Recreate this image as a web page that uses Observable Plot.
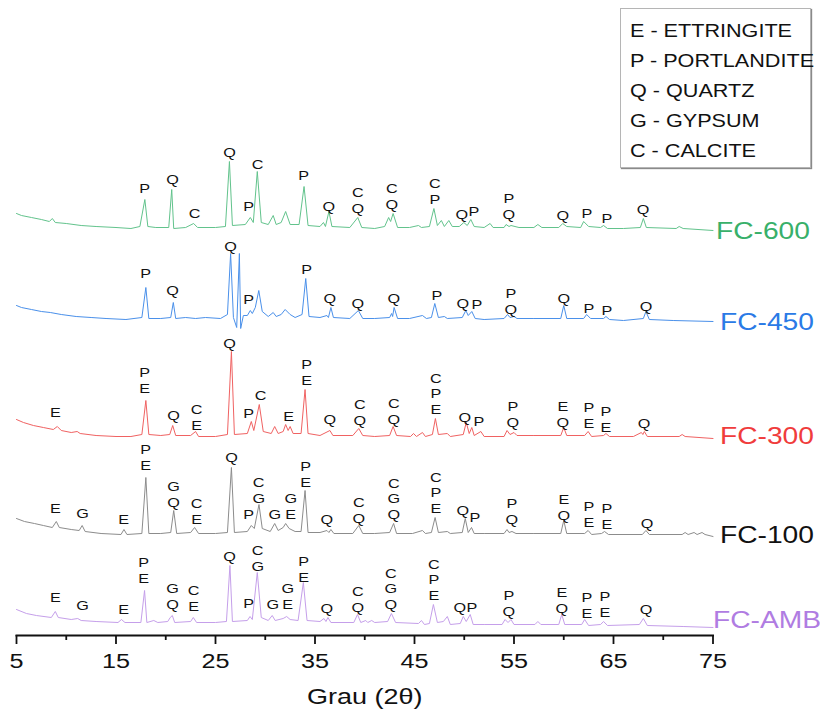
<!DOCTYPE html>
<html><head><meta charset="utf-8">
<script src="https://cdn.jsdelivr.net/npm/d3@7"></script>
<script src="https://cdn.jsdelivr.net/npm/@observablehq/plot@0.6"></script>
<style>
body{margin:0;background:#fff;}
#wrap{position:relative;width:820px;height:711px;font-family:"Liberation Sans",Arial,sans-serif;overflow:hidden;}
#legend{position:absolute;left:620px;top:8px;width:191px;height:160px;border:1px solid #b5b5b5;box-shadow:1px 1px 1px #8a8a8a;background:#fff;box-sizing:border-box;}
#legend div{position:absolute;left:9px;font-size:18px;line-height:18px;transform:scaleX(1.2);transform-origin:0 0;white-space:nowrap;color:#111;}
</style></head>
<body><div id="wrap"><div id="chart"></div><div id="legend"></div></div>
<script>
// ---------- DATA ----------
const seriesNames = ["FC-600", "FC-450", "FC-300", "FC-100", "FC-AMB"];
// vertical offsets of each pattern (a.u.)
const seriesOffsets = [407, 316, 199, 101, 12];
const legendItems = ["E - ETTRINGITE", "P - PORTLANDITE", "Q - QUARTZ", "G - GYPSUM", "C - CALCITE"];
const majorTicks = [5, 15, 25, 35, 45, 55, 65, 75];
const minorTicks = [10, 20, 30, 40, 50, 60, 70];
const xLabel = "Grau (2θ)";

// [2θ, intensity above offset]
const traceFC600 = [[5,15],[5.5,13],[6.5,11],[7.5,9],[8.3,7],[8.6,10],[8.9,6],[10,5],[11.5,3],[13,2],[15,1],[16.5,0],[17.4,2],[17.9,29],[18.2,2],[19,1],[20.3,1],[20.6,39],[20.8,0],[22,1],[22.8,5],[23.2,1],[25,1],[26,2],[26.4,67],[26.7,3],[28,4],[28.5,11],[28.8,6],[29.2,57],[29.6,6],[30.3,4],[30.8,13],[31.1,4],[31.6,6],[32.05,17],[32.5,4],[33.4,4],[33.9,42],[34.3,3],[35.5,2],[35.85,6],[36.05,2],[36.4,17],[36.7,2],[38.5,1],[39.3,11],[39.7,1],[41,0],[42,2],[42.4,11],[42.6,7],[42.85,15],[43.3,1],[44.5,1],[45.4,3],[45.7,1],[46.5,2],[46.95,20],[47.3,3],[47.7,8],[48,2],[48.45,8],[48.8,2],[49.5,2],[49.96,6],[50.3,3],[50.66,9],[51,2],[52,1],[52.6,5],[52.9,1],[54,1],[54.2,4],[54.5,2],[54.7,3],[55.5,1],[57,1],[57.4,4],[57.8,1],[59.5,1],[59.9,5],[60.3,2],[61.7,1],[62,7],[62.5,2],[63.7,1],[64,3],[64.4,0],[66,0],[67.7,1],[68,10],[68.3,1],[71.3,0],[71.6,2],[72,0],[75,-2]];
const traceFC450 = [[5,14],[5.5,12],[6.5,10],[7.5,8],[8.4,7],[9.5,5],[11,3],[12.5,2],[14,1],[16,0],[17.6,2],[18,32],[18.3,1],[19.5,1],[20.5,2],[20.76,17],[21,1],[22,2],[23,1],[24,2],[25.5,1],[26.2,5],[26.52,66],[26.8,2],[27.13,-8],[27.4,66],[27.53,-9],[27.8,4],[28.2,4],[28.5,9],[28.7,6],[29,12],[29.35,29],[29.7,8],[30.3,3],[30.8,7],[31.1,3],[31.6,5],[32,10],[32.5,5],[33,2],[33.7,5],[34.07,41],[34.4,3],[35.5,2],[36.2,4],[36.35,2],[36.6,12],[36.85,2],[38.5,1],[39.36,9],[39.8,1],[41,1],[42.5,2],[42.7,6],[42.8,3],[42.95,12],[43.3,1],[44.5,1],[45.8,4],[46.2,1],[46.7,2],[47.04,16],[47.4,2],[48,3],[48.3,1],[49.8,2],[50.16,9],[50.4,4],[50.76,8],[51.1,1],[52,0],[54,1],[54.35,5],[54.6,2],[55,3],[55.3,1],[57,1],[59.7,1],[60,14],[60.3,1],[62,1],[62.3,5],[62.7,1],[64,1],[64.24,3],[64.6,0],[66,-1],[68,1],[68.26,8],[68.6,0],[71,-1],[75,-2]];
const traceFC300 = [[5,17],[5.7,14],[6.7,11],[7.7,9],[8.7,7],[9.1,10],[9.5,6],[10.5,4],[11.1,5],[11.4,3],[13,1],[15,0],[16.5,0],[17.6,2],[18,36],[18.3,2],[19.5,1],[20.4,2],[20.7,11],[21,1],[22.5,1],[23,5],[23.3,0],[25,0],[26.2,2],[26.6,85],[26.9,2],[28.2,3],[28.6,15],[28.85,6],[29.4,32],[29.8,5],[30.6,3],[30.95,10],[31.3,3],[31.8,5],[32.05,12],[32.3,6],[32.5,10],[32.8,3],[33.6,3],[34,47],[34.3,3],[35.5,1],[36.5,6],[36.8,1],[38.8,1],[39.4,8],[39.8,1],[41,0],[42.5,1],[42.85,10],[43.2,1],[44.6,0],[44.9,3],[45.2,0],[45.8,4],[46.1,0],[46.8,2],[47.1,18],[47.4,2],[48.3,3],[48.6,0],[49.9,2],[50.2,14],[50.5,3],[50.76,9],[51,1],[51.67,5],[52,0],[54,0],[54.3,6],[54.6,2],[55,4],[55.3,1],[57,1],[59.7,1],[60,9],[60.3,1],[62.1,1],[62.45,5],[62.8,0],[64,1],[64.24,3],[64.6,0],[67,0],[67.8,4],[67.95,2],[68.1,5],[68.4,0],[71.6,0],[71.9,2],[72.2,0],[75,-2]];
const traceFC100 = [[5,16],[5.8,13],[6.8,11],[7.7,9],[8.6,7],[9,13],[9.3,7],[10.5,5],[11.3,4],[11.6,9],[11.9,3],[13.5,1],[15.5,0],[15.8,5],[16.1,0],[17.6,1],[18,57],[18.3,1],[19.5,1],[20.5,2],[20.8,24],[21.1,1],[22.5,2],[22.9,7],[23.3,1],[25,1],[26.2,2],[26.6,67],[26.9,2],[28.2,3],[28.6,9],[28.9,6],[29.37,30],[29.7,6],[30.5,3],[30.95,11],[31.3,4],[31.8,7],[32.05,11],[32.4,6],[33,3],[33.6,3],[34,44],[34.3,2],[35.5,2],[36.2,4],[36.4,2],[36.6,5],[36.9,1],[38.8,1],[39.4,9],[39.8,1],[41,1],[42.5,2],[42.9,11],[43.2,1],[44.8,1],[45.8,4],[46.1,1],[46.7,2],[47.07,17],[47.4,2],[48.3,3],[48.6,1],[49.8,2],[50.1,16],[50.4,2],[50.73,7],[51,1],[52,1],[54,1],[54.3,5],[54.5,2],[54.8,3],[55.2,1],[57,1],[59.7,1],[60,14],[60.3,1],[62.1,1],[62.45,4],[62.8,0],[63.8,1],[64.1,3],[64.5,0],[67.9,0],[68.26,4],[68.6,0],[71.9,0],[72.2,2],[72.5,0],[73.1,2],[73.4,0],[73.9,2],[74.2,0],[75,-2]];
const traceFCAMB = [[5,14],[6,10],[7,8],[8.5,6],[8.9,12],[9.2,6],[10.5,4],[11.15,5],[11.5,3],[13,2],[15.2,1],[15.55,4],[15.9,1],[17.5,1],[17.87,33],[18.1,1],[18.8,3],[19.2,1],[20.2,2],[20.45,6],[20.66,8],[20.9,1],[22.5,2],[22.77,6],[23.1,1],[25,1],[26.1,2],[26.45,58],[26.7,2],[28.2,3],[28.47,7],[28.7,4],[29.2,51],[29.6,6],[30.3,3],[30.7,8],[31,3],[31.8,5],[32.15,7],[32.5,4],[33.3,3],[33.83,41],[34.2,3],[35.5,2],[35.9,5],[36.1,2],[36.3,6],[36.6,1],[38.9,1],[39.27,9],[39.6,1],[40.1,3],[40.3,1],[40.7,3],[41,1],[42.3,2],[42.68,10],[43.1,1],[45.4,0],[45.7,3],[46,-1],[46.5,0],[46.9,19],[47.3,1],[47.9,2],[48.3,7],[48.6,-1],[49.6,0],[49.9,7],[50.2,2],[50.6,9],[50.9,-1],[52,-1],[53.8,-1],[54.1,4],[54.4,1],[54.7,4],[55,-1],[57.1,-1],[57.4,2],[57.7,-1],[59.5,-1],[59.8,9],[60.1,-1],[61.8,-1],[62.1,4],[62.5,-2],[63.7,-1],[64,2],[64.4,-2],[67.6,-1],[68,5],[68.4,-2],[72,-3],[75,-4]];
const traces = [traceFC600, traceFC450, traceFC300, traceFC100, traceFCAMB];

// peak labels: [2θ, phases, level above offset]
const labelsFC600 = [[17.87,"P",36],[20.69,"Q",45],[22.9,"C",11],[26.42,"Q",72],[28.33,"P",18],[29.24,"C",60],[33.87,"P",49],[36.38,"Q",18],[39.3,"C\nQ",16],[42.72,"C\nQ",20],[47.04,"C\nP",25],[49.76,"Q",10],[50.96,"P",13],[54.48,"P\nQ",10],[59.91,"Q",9],[62.33,"P",11],[64.34,"P",6],[67.96,"Q",15]];
const labelsFC450 = [[17.97,"P",42],[20.69,"Q",25],[26.52,"Q",69],[28.33,"P",16],[34.17,"P",46],[36.48,"Q",17],[39.3,"Q",12],[42.92,"Q",17],[47.24,"P",20],[49.86,"Q",12],[51.26,"P",11],[54.69,"P\nQ",6],[60.01,"Q",17],[62.53,"P",7],[64.34,"P",5],[68.26,"Q",9]];
const labelsFC300 = [[8.92,"E",20],[17.87,"P\nE",44],[20.79,"Q",17],[23.1,"C\nE",7],[26.42,"Q",89],[28.33,"P",19],[29.54,"C",37],[32.36,"E",16],[34.17,"P\nE",52],[36.48,"Q",13],[39.5,"C\nQ",12],[42.92,"C\nQ",13],[47.14,"C\nP\nE",23],[50.06,"Q",15],[51.46,"P",11],[54.88,"P\nQ",10],[59.91,"E\nQ",10],[62.53,"P\nE",9],[64.24,"P\nE",5],[68.06,"Q",9]];
const labelsFC100 = [[8.92,"E",22],[11.64,"G",17],[15.76,"E",11],[17.97,"P\nE",65],[20.79,"G\nQ",28],[23.1,"C\nE",11],[26.62,"Q",73],[28.33,"P",16],[29.34,"C\nG",32],[30.95,"G",16],[32.56,"G\nE",16],[34.07,"P\nE",48],[36.18,"Q",11],[39.4,"C\nQ",12],[42.92,"C\nG\nQ",16],[47.14,"C\nP\nE",22],[49.86,"Q",20],[51.06,"P",13],[54.78,"P\nQ",11],[60.01,"E\nQ",15],[62.53,"P\nE",8],[64.34,"P\nE",6],[68.36,"Q",7]];
const labelsFCAMB = [[8.92,"E",22],[11.64,"G",14],[15.76,"E",10],[17.77,"P\nE",41],[20.69,"G\nQ",15],[22.8,"C\nE",13],[26.42,"Q",63],[28.33,"P",16],[29.24,"C\nG",53],[30.75,"G",15],[32.26,"G\nE",15],[33.87,"P\nE",42],[36.18,"Q",11],[39.3,"C\nQ",12],[42.61,"C\nG\nQ",15],[46.94,"C\nP\nE",24],[49.55,"Q",12],[50.76,"P",12],[54.48,"P\nQ",8],[59.81,"E\nQ",11],[62.33,"P\nE",6],[64.14,"P\nE",7],[68.26,"Q",10]];
const peakLabels = [labelsFC600, labelsFC450, labelsFC300, labelsFC100, labelsFCAMB];
// level of the series name relative to its offset
const seriesLabelLevels = [-10, -10, -7, -8, -4];

// ---------- STYLE ----------
const traceColors = ["#62c38c", "#4a90ea", "#f06262", "#8c8c8c", "#c59fea"];
const nameColors = ["#38b06a", "#2a7ae6", "#f03c3c", "#111111", "#b07ce2"];
const nameDx = [3, 7, 7, 7, 0];
const FONT = "'Liberation Sans', Arial, sans-serif";
const STRETCH = 1.2;

const marks = [
  Plot.frame({anchor: "bottom", strokeWidth: 2, stroke: "#111"}),
  Plot.axisX({ticks: majorTicks, tickSize: 9, tickPadding: 9, fontSize: 21, strokeWidth: 1.8, stroke: "#111", fill: "#111", label: null}),
  Plot.axisX({ticks: minorTicks, tickSize: 5, strokeWidth: 1.8, stroke: "#111", fill: "none", label: null}),
  Plot.text([xLabel], {frameAnchor: "bottom", dy: 68, lineAnchor: "bottom", fontSize: 22.5, fill: "#111"})
];

seriesNames.forEach((name, i) => {
  const off = seriesOffsets[i];
  const pts = traces[i].map(([t, h]) => ({t, v: off + h}));
  marks.push(Plot.line(pts, {x: "t", y: "v", stroke: traceColors[i], strokeWidth: 1}));
  const labs = peakLabels[i].map(([t, s, h]) => ({t, s, v: off + h}));
  marks.push(Plot.text(labs, {x: "t", y: "v", text: "s", lineAnchor: "bottom", lineHeight: 1.13, fontSize: 13.5, fill: "#111"}));
  marks.push(Plot.text([{t: 75, v: off + seriesLabelLevels[i], s: name}], {x: "t", y: "v", text: "s", textAnchor: "start", lineAnchor: "bottom", dx: nameDx[i], fontSize: 23.5, fill: nameColors[i]}));
});

const chart = Plot.plot({
  width: 820, height: 711,
  marginLeft: 16, marginRight: 107.5, marginTop: 0, marginBottom: 76,
  x: {domain: [5, 75], label: null},
  y: {domain: [0, 635], axis: null},
  style: {fontFamily: FONT, background: "white", overflow: "visible"},
  marks
});
chart.querySelectorAll("text").forEach(t => {
  const tr = t.getAttribute("transform");
  if (tr && tr.includes("translate")) t.setAttribute("transform", tr + ` scale(${STRETCH},1)`);
});
document.getElementById("chart").appendChild(chart);

const legend = document.getElementById("legend");
legendItems.forEach((s, i) => {
  const d = document.createElement("div");
  d.textContent = s;
  d.style.top = (13 + i * 30) + "px";
  legend.appendChild(d);
});
</script>
</body></html>
